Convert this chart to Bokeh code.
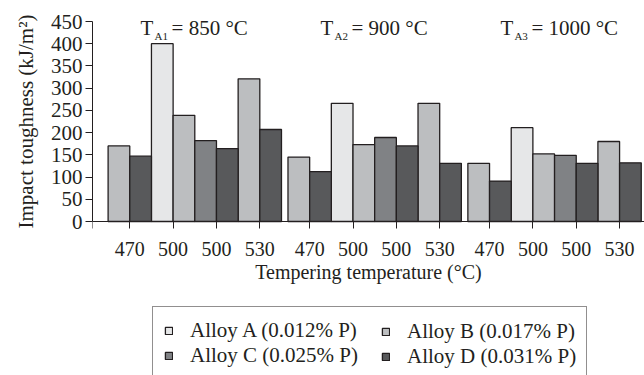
from bokeh.plotting import figure
from bokeh.models import ColumnDataSource, FixedTicker, Legend, LegendItem, Title
from bokeh.core.properties import value
from bokeh.embed import file_html
from bokeh.resources import INLINE

# ---- data ----
aust_temps = ["850", "900", "1000"]
aust_subs = ["A1", "A2", "A3"]
tempering = ["470", "500", "500", "530"]
left_alloy = ["B", "A", "C", "B"]
right_alloy = ["D", "B", "D", "D"]
left_850 = [170, 400, 182, 321]
right_850 = [147, 239, 164, 207]
left_900 = [145, 266, 189, 266]
right_900 = [112, 173, 170, 131]
left_1000 = [131, 211, 149, 180]
right_1000 = [91, 152, 131, 132]
alloys = ["A", "B", "C", "D"]
alloy_labels = ["Alloy A (0.012% P)", "Alloy B (0.017% P)",
                "Alloy C (0.025% P)", "Alloy D (0.031% P)"]
alloy_colors = ["#e6e7e8", "#bcbec0", "#808285", "#58595b"]
y_ticks = [0, 50, 100, 150, 200, 250, 300, 350, 400, 450]

FONT = "Liberation Serif"
INK = "#231f20"
GROUP_STEP = 8.3
X_START, X_END = -0.72, 24.75
Y_START, Y_END = -346.5, 474.75

lefts = [left_850, left_900, left_1000]
rights = [right_850, right_900, right_1000]

bars = {a: {"x": [], "top": []} for a in alloys}
ticks = [X_START]
overrides = {X_START: ""}
for g in range(len(aust_temps)):
    for k in range(len(tempering)):
        c = g * GROUP_STEP + 2 * k + 1
        bars[left_alloy[k]]["x"].append(c - 0.5)
        bars[left_alloy[k]]["top"].append(lefts[g][k])
        bars[right_alloy[k]]["x"].append(c + 0.5)
        bars[right_alloy[k]]["top"].append(rights[g][k])
        ticks.append(c)
        overrides[c] = tempering[k]

p = figure(width=644, height=375,
           x_range=(X_START, X_END), y_range=(Y_START, Y_END),
           output_backend="svg", toolbar_location=None,
           min_border_left=92, min_border_right=0,
           min_border_top=10, min_border_bottom=0)
p.title.visible = False
p.background_fill_color = "white"
p.border_fill_color = "white"
p.outline_line_color = None
p.xgrid.visible = False
p.ygrid.visible = False

renderers = {}
for a, col in zip(alloys, alloy_colors):
    src = ColumnDataSource(dict(x=bars[a]["x"], top=bars[a]["top"]))
    renderers[a] = p.vbar(x="x", top="top", bottom=0, width=1.0, source=src,
                          fill_color=col, line_color=INK, line_width=1.3)

# group titles
tx = [g * GROUP_STEP + 1.5 for g in range(len(aust_temps))]
ty = [435] * len(aust_temps)
p.text(x=tx, y=ty, text=["T"] * len(aust_temps), text_font=value(FONT),
       text_font_size="21px", text_color=INK, text_baseline="alphabetic")
p.text(x=tx, y=ty, text=aust_subs, text_font=value(FONT), x_offset=14, y_offset=8,
       text_font_size="11px", text_color=INK, text_baseline="alphabetic")
p.text(x=tx, y=ty, text=["= " + t + " °C" for t in aust_temps], text_font=value(FONT),
       x_offset=31, text_font_size="21px", text_color=INK, text_baseline="alphabetic")

# x axis pinned at y = 0
xa = p.xaxis[0]
xa.fixed_location = 0
xa.ticker = FixedTicker(ticks=ticks)
xa.major_label_overrides = overrides
xa.minor_tick_line_color = None
xa.major_tick_out = 7
xa.major_tick_in = 0
xa.axis_line_color = INK
xa.major_tick_line_color = INK
xa.major_label_text_font = FONT
xa.major_label_text_font_size = "20px"
xa.major_label_text_color = INK
xa.major_label_standoff = 13
xa.axis_label = "Tempering temperature (°C)"
xa.axis_label_text_font = FONT
xa.axis_label_text_font_style = "normal"
xa.axis_label_text_font_size = "20px"
xa.axis_label_text_color = INK
xa.axis_label_standoff = 2

ya = p.yaxis[0]
ya.ticker = FixedTicker(ticks=y_ticks)
ya.bounds = (0, 450)
ya.minor_tick_line_color = None
ya.major_tick_out = 7
ya.major_tick_in = 0
ya.axis_line_color = INK
ya.major_tick_line_color = INK
ya.major_label_text_font = FONT
ya.major_label_text_font_size = "21px"
ya.major_label_text_color = INK
ya.major_label_standoff = 3

ylab = Title(text="Impact toughness (kJ/m²)", align="left", offset=147,
             text_font=FONT, text_font_size="21px", text_font_style="normal",
             text_color=INK, standoff=20)
p.add_layout(ylab, "left")

leg_common = dict(orientation="vertical", label_text_font=FONT,
                  label_text_font_size="21px", label_text_color=INK,
                  glyph_width=9, glyph_height=9, label_standoff=17, spacing=0,
                  padding=11, margin=0, border_line_color=INK, border_line_width=1)
leg1 = Legend(items=[LegendItem(label=alloy_labels[0], renderers=[renderers["A"]]),
                     LegendItem(label=alloy_labels[2], renderers=[renderers["C"]])],
              location=(60, -5), label_width=385,
              background_fill_color="white", background_fill_alpha=1.0, **leg_common)
leg2 = Legend(items=[LegendItem(label=alloy_labels[1], renderers=[renderers["B"]]),
                     LegendItem(label=alloy_labels[3], renderers=[renderers["D"]])],
              location=(278, -5), border_line_alpha=0.0,
              background_fill_alpha=0.0, **leg_common)
p.add_layout(leg1, "center")
p.add_layout(leg2, "center")

open("out.html", "w").write(file_html(p, INLINE))
